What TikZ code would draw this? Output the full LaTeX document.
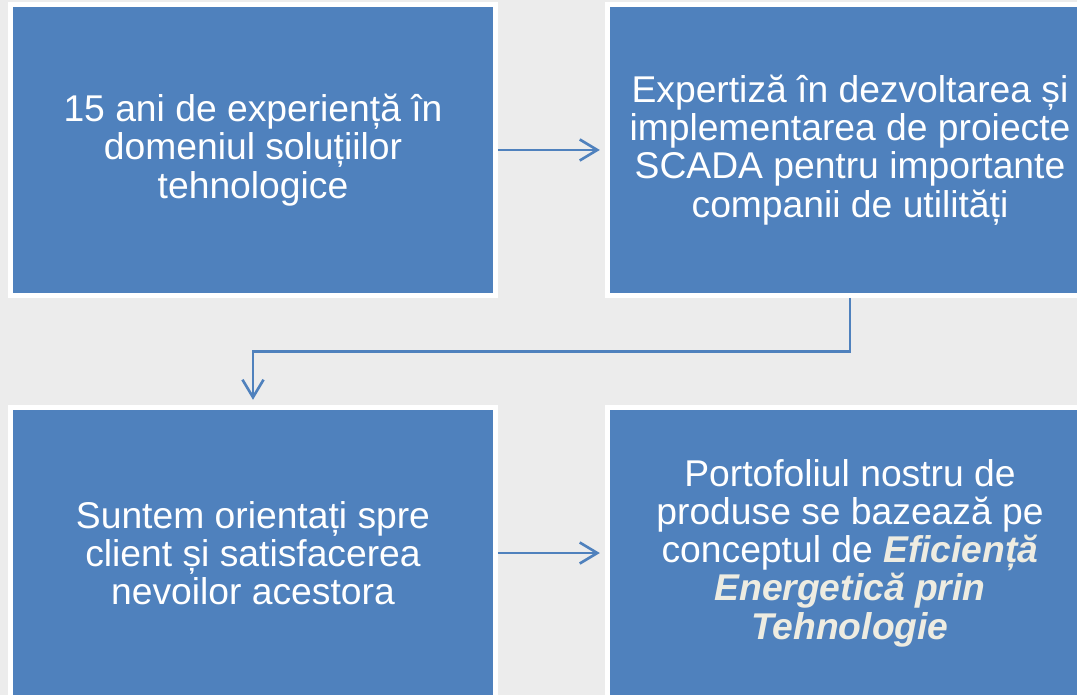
\documentclass[tikz,border=0pt]{standalone}
\usepackage{fontspec}
\setmainfont{Liberation Sans}
\usetikzlibrary{arrows.meta, calc}

\definecolor{boxblue}{HTML}{4F81BD}
\definecolor{backgray}{HTML}{ECECEC}
\definecolor{accent}{HTML}{EEECE1}
\newcommand{\hl}[1]{\textcolor{accent}{\bfseries\itshape #1}}

\begin{document}
\begin{tikzpicture}[x=0.02cm, y=-0.02cm,
	card/.style={draw=white, line width=2.8pt, fill=boxblue, minimum width=9.7cm, minimum height=5.82cm,
		inner sep=0pt, text=white, align=center, font=\fontsize{21.2}{21.8}\selectfont},
	flow/.style={draw=boxblue, line width=1.5pt, shorten >=3pt, -{Straight Barb[length=10pt, width=12pt]}}]
				\useasboundingbox (0,0) rectangle (1077,695);
				\clip (0,0) rectangle (1077,695);
				\fill[backgray] (0,0) rectangle (1077,695);
				
				\node[card] (exp) at (253,150) {15 ani de experiență în\\domeniul soluțiilor\\tehnologice};
				\node[card] (scada) at (850,150) {Expertiză în dezvoltarea și\\implementarea de proiecte\\SCADA pentru importante\\companii de utilități};
				\node[card] (client) at (253,553) {Suntem orientați spre\\client și satisfacerea\\nevoilor acestora};
				\node[card] (port) at (850,553) {Portofoliul nostru de\\produse se bazează pe\\conceptul de \hl{Eficiență}\\\hl{Energetică prin}\\\hl{Tehnologie}};
				
				\coordinate (turn) at ($(scada.south)!.5!(client.north)$);
				
				\draw[flow] (exp.east) -- (scada.west);
				\draw[flow] (scada.south) |- (turn) -| (client.north);
				\draw[flow] (client.east) -- (port.west);
				\end{tikzpicture}
\end{document}
